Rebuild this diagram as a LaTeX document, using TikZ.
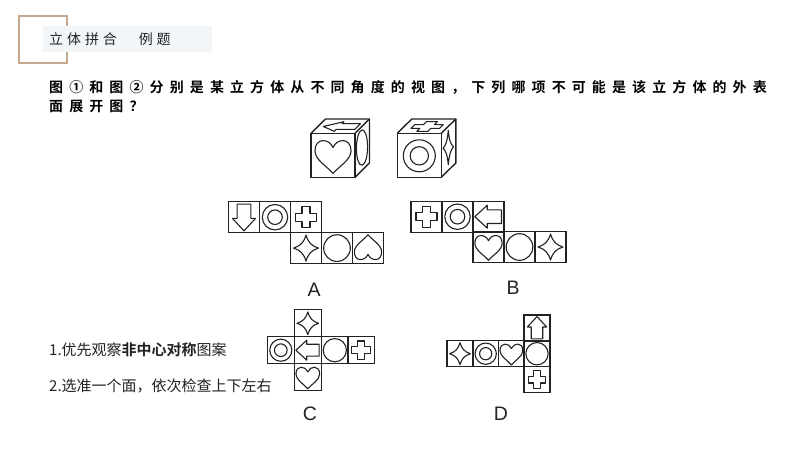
\documentclass[tikz,border=0pt]{standalone}
\usepackage{fontspec}
\setmainfont{Liberation Sans}
\newfontfamily\cjk{Noto Sans CJK SC}
\newfontfamily\cjkwide[LetterSpace=28]{Noto Sans CJK SC}
\newfontfamily\cjktitle[LetterSpace=43.6]{Noto Sans CJK SC Bold}
\newfontfamily\cjkbold{Noto Sans CJK SC Bold}
\definecolor{framebrown}{HTML}{C4A98F}
\definecolor{headpale}{HTML}{F2F6F9}
\definecolor{inkdark}{HTML}{222222}
\tikzset{
  cell/.style={x=#1pt,y=-#1pt},
  face/.style={draw=inkdark,line width=1.2pt,minimum width=#1pt,minimum height=#1pt,inner sep=0pt},
  icon/.style={draw=inkdark,line width=1.1pt,line join=round},
  edge/.style={draw=inkdark,line width=1.4pt,line join=round},
  letter/.style={font=\fontsize{19.5}{22}\selectfont,text=inkdark,inner sep=0pt},
  note/.style={font=\cjk\fontsize{15}{17}\selectfont,text=inkdark,anchor=west,inner sep=0pt},
  title/.style={font=\cjktitle\fontsize{14}{16}\selectfont,text=black,anchor=west,inner sep=0pt},
  topface/.style={x={(42pt,0pt)},y={(-14.3pt,-14.3pt)}},
  sideface/.style={x={(13pt,2pt)},y={(0pt,-41pt)}},
  topleft/.style={x={(13pt,13pt)},y={(40pt,0pt)}},
  pics/ring/.style={code={
    \draw[icon] (0,0) circle (.41);
    \draw[icon] (0,0) circle (.235);}},
  pics/disc/.style={code={\draw[icon] (0,0) circle (.43);}},
  pics/plus/.style={code={
    \draw[icon] (-.13,-.34) -- (.13,-.34) -- (.13,-.13) -- (.34,-.13) -- (.34,.13) -- (.13,.13)
      -- (.13,.34) -- (-.13,.34) -- (-.13,.13) -- (-.34,.13) -- (-.34,-.13) -- (-.13,-.13) -- cycle;}},
  pics/spark/.style={code={
    \draw[icon] (0,-.42) .. controls (.07,-.18) and (.18,-.07) .. (.4,0)
      .. controls (.18,.07) and (.07,.18) .. (0,.42)
      .. controls (-.07,.18) and (-.18,.07) .. (-.4,0)
      .. controls (-.18,-.07) and (-.07,-.18) .. (0,-.42) -- cycle;}},
  pics/heart/.style={code={
    \draw[icon] (0,-.2) .. controls (.08,-.42) and (.44,-.46) .. (.44,-.12)
      .. controls (.44,.1) and (.14,.26) .. (0,.43)
      .. controls (-.14,.26) and (-.44,.1) .. (-.44,-.12)
      .. controls (-.44,-.46) and (-.08,-.42) .. (0,-.2) -- cycle;}},
  pics/arrow/.style={code={
    \draw[icon] (0,-.44) -- (.37,-.04) -- (.22,-.04) -- (.22,.42) -- (-.22,.42)
      -- (-.22,-.04) -- (-.37,-.04) -- cycle;}},
}
\begin{document}
\begin{tikzpicture}[x=1pt,y=-1pt]
  \useasboundingbox (0,0) rectangle (800,450);
  % header
  \draw[framebrown,line width=2pt] (18.5,15.5) rectangle (66.5,62.5);
  \fill[headpale] (43,26) rectangle (212,52);
  \node[note,font=\cjkwide\fontsize{14}{16}\selectfont] (head) at (49,39) {立体拼合　例题};
  % question
  \node[title] (line1) at (49,87) {图①和图②分别是某立方体从不同角度的视图，下列哪项不可能是该立方体的外表};
  \node[title] (line2) at (49,106) {面展开图？};
  % the two cubes
  \foreach \nm/\ox in {cubeone/311,cubetwo/397.3}{
    \coordinate (\nm) at (\ox,133.3);
    \draw[edge] (\nm) rectangle ++(44,44);
    \draw[edge] (\nm) -- ++(14.5,-14.3) -- ++(44,0) -- ++(0,44) -- ++(-14.5,14.3);
    \draw[edge] (\ox+44,133.3) -- ++(14.5,-14.3);
    \coordinate (\nm top) at (\ox+29.8,126.5);
    \coordinate (\nm front) at (\ox+22,155.8);
    \coordinate (\nm side) at (\ox+51,147.6);
  }
  \pic[topleft] at (cubeonetop) {arrow};
  \pic[cell=41] at (cubeonefront) {heart};
  \pic[sideface] at (cubeoneside) {disc};
  \pic[topface] at (cubetwotop) {plus};
  \pic[cell=39] at (cubetwofront) {ring};
  \pic[sideface] at (cubetwoside) {spark};
  % the nets: name/x/y/size/icon/turn
  \foreach \nm/\cx/\cy/\sz/\ic/\rot in {
      a1/244/217.2/31/arrow/180,a2/275/217.2/31/ring/0,a3/306/217.2/31/plus/0,
      a4/306/248.1/31/spark/0,a5/337/248.1/31/disc/0,a6/368/248.1/31/heart/180,
      b1/426.5/216.7/31/plus/0,b2/457.5/216.7/31/ring/0,b3/488.5/216.7/31/arrow/90,
      b4/488.5/247/31/heart/0,b5/519.5/247/31/disc/0,b6/550.5/247/31/spark/0,
      c1/307.8/323.3/27/spark/0,c2/280.8/350.2/27/ring/0,c3/307.8/350.2/27/arrow/90,
      c4/334.8/350.2/27/disc/0,c5/361/350.2/27/plus/0,c6/307.8/377.2/27/heart/0,
      d1/460/353.7/26/spark/0,d2/485.7/353.7/26/ring/0,d3/511.4/353.7/26/heart/0,
      d4/537/353.7/26/disc/0,d5/537/328/26/arrow/0,d6/537/379.6/26/plus/0}{
    \node[face=\sz] (\nm) at (\cx,\cy) {};
    \pic[cell=\sz,rotate=\rot] at (\nm) {\ic};
  }
  % option letters
  \node[letter] (optA) at (314,290) {A};
  \node[letter] (optB) at (513,288) {B};
  \node[letter] (optC) at (310,414) {C};
  \node[letter] (optD) at (501,414) {D};
  % hints
  \node[note] (hint1) at (49,349.5) {1.优先观察{\cjkbold\fontsize{15}{17}\selectfont 非中心对称}图案};
  \node[note] (hint2) at (49,385.5) {2.选准一个面，依次检查上下左右};
\end{tikzpicture}
\end{document}
